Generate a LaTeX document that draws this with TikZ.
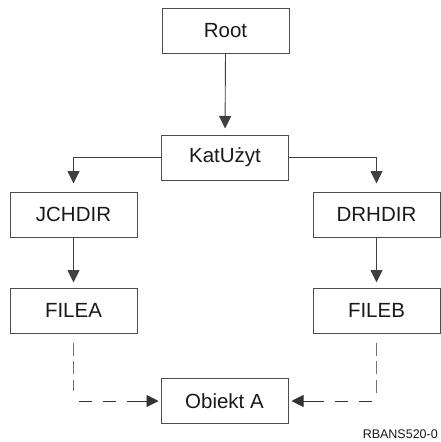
\documentclass[tikz,border=0pt]{standalone}
\usepackage{fontspec}
\setmainfont{Liberation Sans}
\usetikzlibrary{arrows.meta}
\newcommand\bigtxt{\fontsize{20.5pt}{24pt}\selectfont}
\newcommand\smalltxt{\fontsize{12.5pt}{14pt}\selectfont}
\begin{document}
\begin{tikzpicture}[x=1pt,y=1pt,
  box/.style={draw=black!70,line width=1pt,minimum width=127pt,minimum height=45pt,inner sep=0pt,text=black!90},
  link/.style={draw=black!75,line width=0.9pt,-{Triangle[width=12pt,length=12.5pt]}},
  dv/.style={draw=black!55,line width=1pt,dash pattern=on 13pt off 5.5pt},
  dh/.style={draw=black!80,line width=0.9pt,dash pattern=on 13pt off 11pt on 13pt off 11pt on 80pt off 1pt,
    -{Triangle[width=12pt,length=12pt]}}]
\useasboundingbox (0,0) rectangle (441,-442);
\node[box] (Root) at (225.5,-30.5) {\bigtxt Root};
\node[box] (Kat) at (225,-157.5) {\bigtxt KatUżyt};
\node[box] (JCH) at (73.5,-214.5) {\bigtxt JCHDIR};
\node[box] (DRH) at (376.5,-214.5) {\bigtxt DRHDIR};
\node[box] (FA) at (73.5,-310.5) {\bigtxt FILEA};
\node[box] (FB) at (376.5,-310.5) {\bigtxt FILEB};
\node[box] (Ob) at (224.5,-401) {\bigtxt Obiekt A};
\node[anchor=base east,inner sep=0pt,text=black!90] (lab) at (438,-438.5) {\smalltxt RBANS520-0};

\draw[link,shorten >=6pt] (Root.south) -- (Kat.north);
\draw[link,shorten >=8pt] (Kat.west) -| (JCH.north);
\draw[link,shorten >=8pt] (Kat.east) -| (DRH.north);
\draw[link,shorten >=5pt] (JCH.south) -- (FA.north);
\draw[link,shorten >=5pt] (DRH.south) -- (FB.north);

\coordinate (cA) at (FA.south |- Ob.west);
\coordinate (cB) at (FB.south |- Ob.west);
\draw[dv] ([yshift=-9pt]FA.south) -- ([yshift=10pt]cA);
\draw[dv] ([yshift=-9pt]FB.south) -- ([yshift=8pt]cB);
\draw[dh,shorten >=2pt] ([xshift=5.5pt]cA) -- (Ob.west);
\draw[dh,shorten >=3pt] ([xshift=-4.5pt]cB) -- (Ob.east);
\end{tikzpicture}
\end{document}
